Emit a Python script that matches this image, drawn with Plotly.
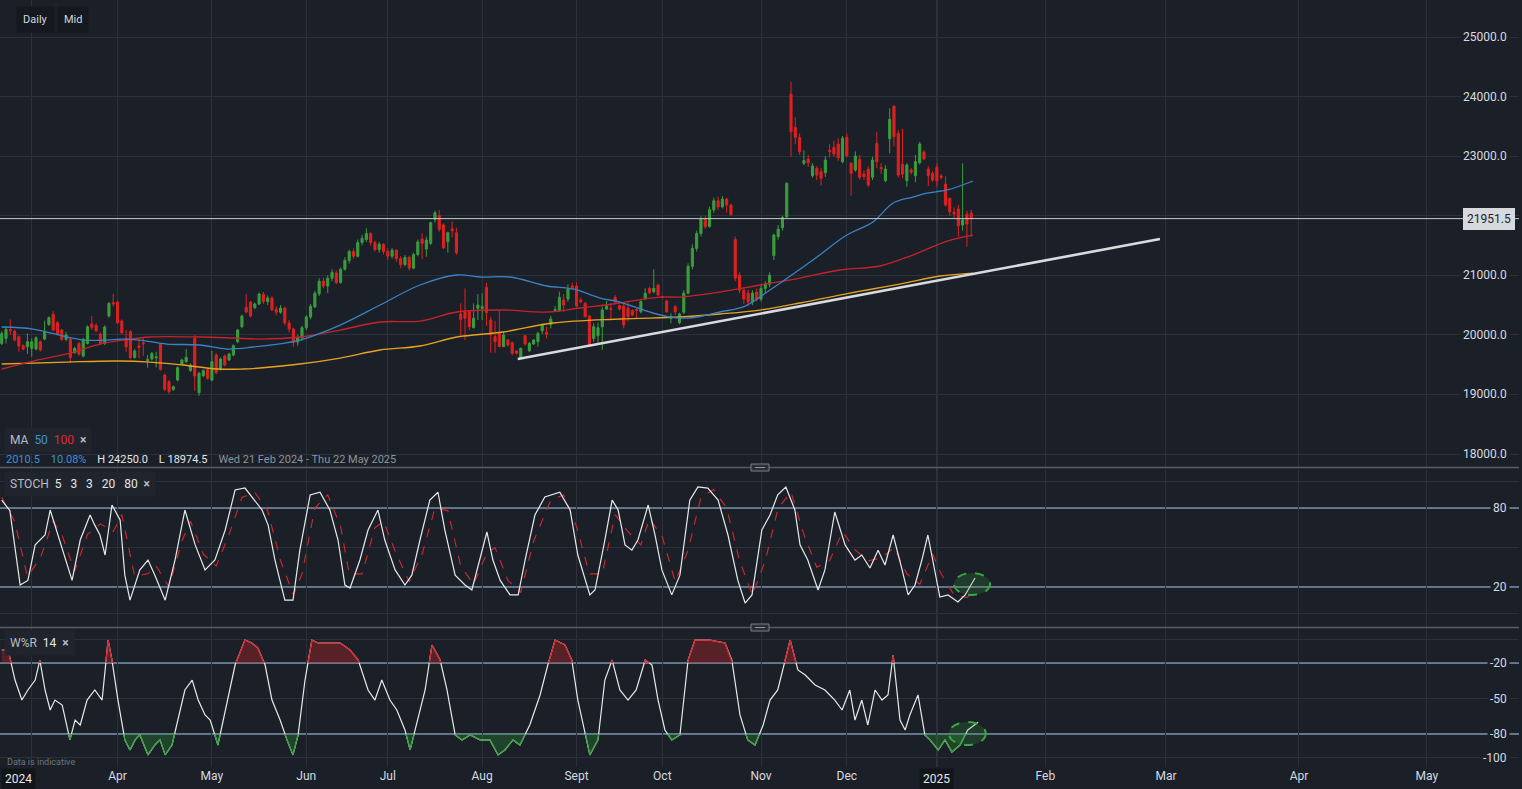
import plotly.graph_objects as go
from plotly.subplots import make_subplots

# ---------------- DATA ----------------
# bar slots: 0 = Wed 21 Feb 2024 (trading days), future slots in calendar days
month_slots = [7, 27, 49, 71, 90, 112, 134, 154, 177, 197, 218, 243.3, 271.4, 302.4, 332.2]
month_labels = ["", "Apr", "May", "Jun", "Jul", "Aug", "Sept", "Oct", "Nov", "Dec", "", "Feb", "Mar", "Apr", "May"]

open_ = [19857, 19941, 20090, 20064, 19969, 19818, 19801, 19773, 19762, 19885,
         19930, 20176, 20344, 20204, 20081, 19925, 19925, 19701, 19857, 19645,
         19857, 20182, 20160, 20014, 19857, 20316, 20540, 20551, 20232, 19941,
         20053, 19622, 19813, 19865, 19570, 19594, 19615, 19841, 19326, 19214,
         19085, 19242, 19505, 19550, 19398, 19941, 19029, 19315, 19421, 19242,
         19662, 19421, 19645, 19578, 19662, 19885, 20137, 20462, 20551, 20456,
         20518, 20680, 20560, 20620, 20430, 20380, 20450, 20200, 20100, 19880,
         19950, 20120, 20300, 20470, 20690, 20900, 20820, 20950, 21040, 20880,
         21100, 21250, 21400, 21320, 21550, 21600, 21700, 21550, 21430, 21520,
         21400, 21320, 21420, 21280, 21180, 21300, 21120, 21350, 21609, 21441,
         21536, 21939, 22001, 21844, 21564, 21777, 21715, 20350, 20389, 20389,
         20120, 20445, 20445, 20797, 20249, 19969, 20025, 19802, 19913, 19868,
         19729, 19617, 19986, 19734, 19846, 19885, 20070, 20042, 20176, 20410,
         20406, 20585, 20602, 20820, 20820, 20585, 20529, 20316, 19941, 19986,
         20137, 20434, 20440, 20630, 20490, 20484, 20445, 20406, 20425, 20389,
         20613, 20781, 20725, 20837, 20641, 20568, 20277, 20473, 20204, 20380,
         20700, 21150, 21450, 21700, 21950, 21820, 22100, 22250, 22150, 22280,
         22180, 21600, 21000, 20750, 20700, 20550, 20720, 20600, 20780, 20850,
         21330, 21650, 21800, 21980, 24043, 23484, 23316, 22880, 22952, 22672,
         22796, 22739, 22722, 23100, 23148, 23204, 22907, 23316, 22880, 22767,
         22947, 22700, 22779, 22645, 23215, 22810, 22588, 23293, 23842, 23383,
         22863, 22588, 22767, 22672, 22890, 23069, 22784, 22712, 22813, 22665,
         22532, 22293, 22060, 22113, 21844, 22024, 22045]
high = [20060, 20148, 20260, 20090, 19990, 19840, 20025, 19941, 19975, 19910,
        20238, 20310, 20400, 20230, 20100, 20050, 19950, 19800, 19880, 19950,
        20160, 20316, 20190, 20040, 20160, 20550, 20686, 20570, 20260, 20081,
        20080, 19760, 19941, 19958, 19662, 19710, 19717, 19860, 19350, 19240,
        19150, 19470, 19600, 19762, 19520, 19997, 19380, 19420, 19440, 19734,
        19690, 19620, 19670, 19700, 19840, 20100, 20340, 20686, 20570, 20540,
        20710, 20720, 20660, 20650, 20480, 20500, 20470, 20250, 20120, 20000,
        20150, 20330, 20520, 20740, 20950, 20960, 21000, 21100, 21080, 21130,
        21300, 21430, 21450, 21600, 21680, 21790, 21720, 21580, 21560, 21540,
        21450, 21460, 21440, 21320, 21340, 21330, 21380, 21600, 21704, 21648,
        21900, 22085, 22096, 21870, 21732, 21900, 21799, 20529, 20781, 20417,
        20529, 20686, 20697, 20876, 20305, 20232, 20406, 20053, 19930, 19885,
        19740, 19790, 19997, 19880, 19930, 20053, 20193, 20137, 20316, 20484,
        20725, 20686, 20848, 20876, 20876, 20630, 20551, 20333, 20193, 20204,
        20473, 20568, 20529, 20669, 20510, 20529, 20546, 20430, 20445, 20580,
        20781, 20809, 21100, 20860, 20660, 20590, 20360, 20501, 20370, 20750,
        21200, 21520, 21750, 21990, 22000, 22150, 22300, 22320, 22330, 22300,
        22200, 21650, 21050, 20800, 20760, 20750, 20780, 20850, 20900, 21050,
        21700, 21844, 22000, 22560, 24250, 23652, 23380, 23100, 23020, 22880,
        22830, 22800, 23000, 23200, 23260, 23300, 23338, 23380, 22900, 23080,
        23020, 22760, 22830, 22990, 23410, 22880, 22850, 23803, 23842, 23440,
        23460, 22880, 22800, 23020, 23240, 23100, 22830, 22750, 22880, 22700,
        22660, 22300, 22140, 22180, 22880, 22080, 22100]
low = [19830, 19857, 19997, 19890, 19717, 19740, 19678, 19634, 19740, 19720,
       19910, 20150, 20060, 19990, 19900, 19890, 19533, 19680, 19650, 19620,
       19840, 20081, 20040, 19830, 19830, 20290, 20473, 20180, 20010, 19717,
       19590, 19600, 19606, 19645, 19449, 19570, 19455, 19400, 19060, 19010,
       19060, 19220, 19490, 19530, 19380, 19063, 18975, 19290, 19250, 19220,
       19340, 19400, 19470, 19560, 19640, 19860, 20110, 20360, 20290, 20430,
       20500, 20520, 20500, 20400, 20330, 20350, 20160, 20040, 19800, 19820,
       19900, 20080, 20260, 20450, 20650, 20780, 20700, 20900, 20850, 20860,
       21080, 21200, 21280, 21300, 21500, 21560, 21500, 21400, 21380, 21350,
       21260, 21280, 21230, 21120, 21150, 21080, 21100, 21320, 21268, 21312,
       21510, 21883, 21732, 21440, 21379, 21637, 21340, 19997, 19913, 20081,
       20109, 20249, 20249, 20148, 19700, 19700, 19802, 19802, 19802, 19661,
       19670, 19600, 19818, 19710, 19830, 19802, 20014, 19941, 20109, 20389,
       20389, 20389, 20557, 20753, 20462, 20529, 20294, 19802, 19885, 19857,
       19745, 20417, 20260, 20529, 20410, 20109, 20221, 20310, 20277, 20360,
       20585, 20680, 20697, 20650, 20610, 20370, 20193, 20333, 20180, 20350,
       20680, 21100, 21400, 21650, 21780, 21800, 22050, 22100, 22120, 22050,
       21990, 20900, 20700, 20520, 20480, 20500, 20560, 20560, 20700, 20800,
       21256, 21600, 21750, 21960, 22991, 23200, 23020, 22850, 22820, 22640,
       22600, 22504, 22650, 22980, 22990, 22920, 22880, 22980, 22336, 22740,
       22600, 22600, 22480, 22600, 22800, 22700, 22560, 23048, 23160, 22640,
       22630, 22487, 22690, 22560, 22860, 22930, 22500, 22570, 22490, 22610,
       22150, 22000, 21960, 21648, 21749, 21480, 21648]
close = [20025, 20092, 20075, 19913, 19813, 19762, 19885, 19885, 19952, 19745,
         20053, 20288, 20081, 20014, 19925, 19997, 19622, 19773, 19678, 19925,
         20137, 20126, 20070, 19857, 20132, 20529, 20520, 20204, 20036, 19801,
         19617, 19729, 19790, 19850, 19585, 19690, 19630, 19421, 19085, 19046,
         19130, 19449, 19578, 19622, 19494, 19309, 19354, 19398, 19270, 19550,
         19365, 19594, 19494, 19678, 19818, 20081, 20316, 20383, 20316, 20518,
         20686, 20560, 20620, 20420, 20380, 20450, 20200, 20100, 19870, 19950,
         20120, 20300, 20480, 20700, 20900, 20820, 20950, 21050, 20880, 21100,
         21250, 21400, 21320, 21550, 21620, 21700, 21550, 21430, 21520, 21400,
         21320, 21420, 21280, 21180, 21300, 21120, 21350, 21560, 21536, 21592,
         21883, 22051, 21771, 21463, 21715, 21749, 21379, 20260, 20277, 20137,
         20277, 20501, 20473, 20372, 19997, 19885, 19802, 19997, 19829, 19690,
         19690, 19773, 19846, 19857, 19913, 20025, 20165, 20014, 20266, 20425,
         20630, 20501, 20769, 20797, 20484, 20557, 20305, 19818, 20137, 20120,
         20417, 20484, 20430, 20557, 20434, 20165, 20305, 20333, 20410, 20557,
         20697, 20708, 20781, 20669, 20630, 20389, 20305, 20389, 20350, 20700,
         21150, 21450, 21700, 21950, 21820, 22100, 22250, 22150, 22280, 22180,
         22020, 20950, 20750, 20600, 20550, 20700, 20600, 20780, 20850, 21000,
         21676, 21777, 21973, 22544, 23410, 23316, 23075, 22924, 22890, 22834,
         22683, 22628, 22935, 23080, 23036, 22974, 23299, 23008, 22712, 23002,
         22645, 22655, 22515, 22935, 22907, 22790, 22784, 23618, 23326, 22683,
         22700, 22851, 22729, 22907, 23204, 22952, 22672, 22600, 22588, 22645,
         22180, 22068, 22030, 21832, 21928, 21861, 21951.5]

ma50_slot = [0, 7.3, 15.2, 19, 24.5, 27.6, 32.2, 38.5, 46.2, 52.5, 58.6, 69.5, 78.9, 88.2, 97.5, 106.1, 111.5, 118.5, 127.1, 133.2, 139.5, 144.1, 151.8, 155.8, 160.4, 167.4, 173.3, 179.1, 189.1, 197, 203.1, 207.8, 212.4, 215.7, 220.4, 226.4]
ma50_val = [20132, 20098, 19964, 19913, 19913, 19930, 19913, 19846, 19830, 19762, 19796, 19913, 20165, 20501, 20837, 21005, 20971, 20971, 20820, 20770, 20618, 20551, 20367, 20300, 20283, 20384, 20484, 20753, 21256, 21676, 21894, 22213, 22314, 22381, 22432, 22583]
ma100_slot = [0, 7.3, 15.2, 22.9, 28.3, 34.6, 46.2, 53.9, 60.2, 69.5, 78.9, 88.2, 97.5, 106.1, 116.9, 127.1, 134.8, 144.1, 153.4, 158.1, 167.4, 176.8, 186.1, 195.4, 204.7, 212.4, 220.4, 226.4]
ma100_val = [19427, 19561, 19679, 19846, 19913, 19964, 19964, 19947, 19930, 19964, 20081, 20216, 20232, 20384, 20417, 20384, 20451, 20535, 20635, 20635, 20719, 20837, 20954, 21089, 21156, 21340, 21575, 21676]
ma200_slot = [0, 15.2, 26.9, 34.6, 42.3, 50.2, 56.2, 60.2, 69.5, 78.9, 88.2, 97.5, 106.1, 116.9, 128.5, 144.1, 158.1, 167.4, 176.8, 186.1, 197.7, 209.4, 218.7, 226.4]
ma200_val = [19511, 19544, 19561, 19544, 19494, 19427, 19427, 19444, 19511, 19611, 19746, 19813, 19964, 20048, 20199, 20266, 20300, 20350, 20417, 20535, 20702, 20853, 20988, 21038]

trend_slot = [120.3, 270]
trend_val = [19595, 21609]
last_price = 21951.5

stoch_k_slot = [0, 1.9, 4.3, 6.1, 7.8, 10.1, 11.3, 12.4, 14.8, 16.4, 18.3, 20.6, 21.7, 22.9, 24.1, 25.7, 27.6, 28.7, 29.9, 32.2, 34.1, 35.7, 38.1, 40.4, 42.7, 45.1, 47.4, 49.7, 52.1, 54.4, 56.7, 59.0, 60.7, 62.1, 63.7, 66.0, 67.9, 69.5, 71.9, 74.2, 76.5, 78.4, 80.0, 81.2, 83.5, 85.4, 87.7, 89.3, 91.7, 94.0, 95.6, 97.5, 99.8, 101.7, 103.3, 105.7, 108.0, 109.6, 111.5, 113.1, 114.5, 116.2, 118.5, 120.4, 122, 124.3, 126.6, 130.1, 132.5, 134.3, 137.1, 138.3, 140.6, 142.3, 143.7, 145.3, 146.9, 148.3, 150.7, 152.3, 153.9, 156.2, 158.1, 160.4, 162.3, 164.6, 167, 169.3, 171.6, 173.3, 174.9, 177.2, 179.1, 180.9, 182.8, 184.9, 186.1, 187.9, 190.3, 191.9, 194.2, 196.6, 198.9, 200.5, 202.4, 204.3, 205.9, 207.8, 209.9, 211.3, 212.9, 214.5, 215.9, 217.6, 218.7, 220.6, 222.9, 224.6, 226.9]
stoch_k_val = [86, 78, 21.5, 25, 52, 59.5, 78.5, 67, 40.5, 25, 55.7, 74.7, 67, 59.5, 44.3, 82.3, 71, 29, 10, 33, 40.5, 29, 10, 40.5, 78.5, 52, 33, 40.5, 63.3, 93.7, 95.2, 86, 78.5, 67, 40.5, 10, 10, 48, 90, 92, 78.5, 55.7, 21.5, 19.2, 40.5, 63.3, 78.5, 55.7, 33, 21.5, 29, 55.7, 86, 92, 63.3, 29, 21.5, 17.7, 40.5, 61.8, 40.5, 25, 14, 14, 40.5, 74.7, 88.4, 92, 78.5, 44.3, 14, 17.7, 55.7, 86, 78.5, 52, 48, 55.7, 82.3, 59.5, 33, 14, 29, 86, 96, 95.2, 86, 59.5, 25, 7.8, 14, 63.3, 74.7, 90, 96, 78.5, 52, 40.5, 17.7, 33, 77, 52, 40.5, 44.3, 34.4, 48, 36.7, 59.5, 33, 14, 21.5, 40.5, 59.5, 29, 12.4, 14, 8.6, 14, 26.8]
stoch_d_slot = [0, 3, 6, 9, 12, 14, 17, 20, 23, 26, 28, 31, 34, 36, 39, 42, 44, 47, 50, 53, 56, 59, 62, 65, 68, 70, 73, 76, 79, 81, 84, 87, 89, 92, 95, 98, 101, 104, 107, 110, 113, 115, 118, 121, 124, 128, 131, 134, 137, 140, 143, 146, 149, 151, 154, 157, 160, 163, 166, 169, 172, 175, 178, 181, 184, 187, 190, 193, 196, 199, 202, 205, 208, 211, 214, 217, 219, 222, 225, 227]
stoch_d_val = [88, 70, 28, 42, 70, 60, 32, 60, 68, 62, 75, 28, 30, 36, 20, 55, 70, 45, 36, 60, 88, 92, 78, 40, 14, 30, 80, 90, 66, 30, 30, 65, 70, 45, 24, 45, 80, 78, 36, 22, 45, 50, 25, 16, 55, 86, 90, 66, 30, 30, 75, 62, 52, 72, 58, 24, 48, 88, 94, 80, 40, 14, 40, 80, 92, 60, 35, 40, 62, 48, 40, 42, 50, 30, 22, 45, 30, 14, 12, 18]

wr_slot = [0, 1.5, 3.1, 4.7, 6.1, 7.8, 8.9, 10.1, 11.3, 12.4, 14.1, 15.9, 17.1, 18.3, 19.9, 21.7, 23.4, 24.8, 25.7, 27.1, 28.7, 29.9, 31.1, 32.2, 34.1, 35.7, 36.9, 38.1, 39.7, 41.1, 42.7, 44.4, 45.8, 47.4, 48.6, 50.4, 52.1, 54.4, 56.7, 58.3, 59.7, 61.4, 63, 64.9, 66.5, 67.9, 69.1, 70.7, 72.3, 73.7, 76.5, 78.9, 81.2, 83.1, 85.4, 87, 88.6, 90.5, 92.1, 94, 95.2, 97, 98.7, 100.3, 102.2, 103.8, 105.7, 107.3, 109.2, 111.5, 113.8, 115.7, 117.3, 119.2, 120.8, 123.1, 125.5, 127.3, 129, 131.3, 132.9, 134.3, 135.9, 137.1, 139, 140.6, 142.3, 144.1, 146, 147.9, 150, 151.6, 153, 154.6, 156.2, 158.1, 160, 161.6, 165.1, 168.6, 170.2, 172.1, 173.9, 175.6, 177.5, 179.1, 180.9, 182.6, 183.8, 185.6, 187.3, 189.6, 191.9, 194.2, 195.9, 197.7, 198.9, 200.5, 201.9, 203.6, 205.2, 206.6, 207.8, 209.4, 210.6, 211.7, 213.6, 215.2, 216.4, 218.3, 219.9, 221.5, 223.4, 225.2, 227.6]
wr_val = [-9, -9, -34.4, -51.3, -42.8, -34.4, -17.5, -42.8, -59.7, -51.3, -55.5, -85, -68.2, -72.4, -51.3, -42.8, -51.3, -0.6, -17.5, -51.3, -85, -93.5, -85, -80.8, -97.7, -89.3, -85, -97.7, -89.3, -68.2, -42.8, -34.4, -51.3, -63.9, -68.2, -89.3, -59.7, -21.7, -0.6, -3.1, -7.3, -21.7, -51.3, -68.2, -85, -97.7, -80.8, -34.4, -0.6, -3.1, -3.1, -3.1, -9, -17.5, -42.8, -51.3, -34.4, -51.3, -59.7, -76.6, -93.5, -68.2, -42.8, -4.8, -17.5, -42.8, -80.8, -85, -80.8, -85, -85, -97.7, -93.5, -85, -89.3, -72.4, -47, -21.7, -0.6, -4.8, -17.5, -51.3, -76.6, -97.7, -85, -34.4, -17.5, -42.8, -51.3, -42.8, -17.5, -21.7, -51.3, -76.6, -85, -80.8, -17.5, -0.6, -0.6, -3.1, -17.5, -63.9, -85, -89.3, -72.4, -51.3, -42.8, -17.5, -0.6, -25.9, -30.1, -38.6, -42.8, -51.3, -59.7, -42.8, -68.2, -51.3, -72.4, -42.8, -51.3, -47, -13.2, -68.2, -76.6, -63.9, -47, -80.8, -85, -93.5, -85, -95.2, -89.3, -76.6, -70]

# ---------------- STYLE ----------------
BG = "#1b2028"
GRID = "#2b3039"
TXT = "#d6dae0"
GREEN = "#3a9d3c"
RED = "#e0201f"
BLUE_MA = "#3a82c4"
RED_MA = "#c4232b"
ORANGE_MA = "#e6a11f"
LEVEL = "#a9cdef"
W, H = 1522, 789
ML, MR, MT, MB = 0, 3, 0, 22
PW, PH = W - ML - MR, H - MT - MB


def px(xp):
    return xp / PW


def py(yp):
    return 1 - yp / PH


X_RANGE = [-0.4, 353.7]

fig = make_subplots(rows=3, cols=1, shared_xaxes=True, vertical_spacing=0)

fig.add_trace(go.Candlestick(
    x=list(range(len(close))), open=open_, high=high, low=low, close=close,
    increasing=dict(line=dict(color=GREEN, width=1), fillcolor=GREEN),
    decreasing=dict(line=dict(color=RED, width=1), fillcolor=RED),
    whiskerwidth=0, showlegend=False, hoverinfo="skip"), row=1, col=1)

fig.add_trace(go.Scatter(x=ma200_slot, y=ma200_val, mode="lines", line=dict(color=ORANGE_MA, width=1.3, shape="spline"), hoverinfo="skip"), row=1, col=1)
fig.add_trace(go.Scatter(x=ma100_slot, y=ma100_val, mode="lines", line=dict(color=RED_MA, width=1.3, shape="spline"), hoverinfo="skip"), row=1, col=1)
fig.add_trace(go.Scatter(x=ma50_slot, y=ma50_val, mode="lines", line=dict(color=BLUE_MA, width=1.3, shape="spline"), hoverinfo="skip"), row=1, col=1)
fig.add_trace(go.Scatter(x=trend_slot, y=trend_val, mode="lines", line=dict(color="#d9dade", width=2.6), hoverinfo="skip"), row=1, col=1)

# Stochastic
fig.add_trace(go.Scatter(x=stoch_d_slot, y=stoch_d_val, mode="lines", line=dict(color="#d8262a", width=1.1, dash="dash"), hoverinfo="skip"), row=2, col=1)
fig.add_trace(go.Scatter(x=stoch_k_slot, y=stoch_k_val, mode="lines", line=dict(color="#e8e8ea", width=1.2), hoverinfo="skip"), row=2, col=1)


# Williams %R with zone fills
def zone(xs, ys, level, above):
    """Split the polyline at the level; return clipped fill path and the in-zone line (None elsewhere)."""
    fx, fy, lx, ly = [], [], [], []
    inside = (lambda v: v > level) if above else (lambda v: v < level)
    for i in range(len(xs)):
        if i > 0:
            y0, y1 = ys[i - 1], ys[i]
            if (y0 - level) * (y1 - level) < 0:
                t = (level - y0) / (y1 - y0)
                xc = xs[i - 1] + t * (xs[i] - xs[i - 1])
                fx.append(xc)
                fy.append(level)
                lx.append(xc)
                ly.append(level)
                if not inside(y1):
                    lx.append(None)
                    ly.append(None)
        fx.append(xs[i])
        fy.append(max(ys[i], level) if above else min(ys[i], level))
        if inside(ys[i]):
            lx.append(xs[i])
            ly.append(ys[i])
    return fx, fy, lx, ly


fig.add_trace(go.Scatter(x=wr_slot, y=wr_val, mode="lines", line=dict(color="#e8e8ea", width=1.2), hoverinfo="skip"), row=3, col=1)
for level, above, col, fcol in [(-20, True, "#d42428", "rgba(190,35,40,0.38)"), (-80, False, "#36a03a", "rgba(45,150,55,0.30)")]:
    fx, fy, lx, ly = zone(wr_slot, wr_val, level, above)
    fig.add_trace(go.Scatter(x=[fx[0], fx[-1]], y=[level, level], mode="lines", line=dict(width=0), hoverinfo="skip"), row=3, col=1)
    fig.add_trace(go.Scatter(x=fx, y=fy, mode="lines", line=dict(width=0), fill="tonexty", fillcolor=fcol, hoverinfo="skip"), row=3, col=1)
    fig.add_trace(go.Scatter(x=lx, y=ly, mode="lines", line=dict(color=col, width=1.2), connectgaps=False, hoverinfo="skip"), row=3, col=1)

main_dom = [py(467), 1]
st_dom = [py(627), py(470)]
wr_dom = [0, py(628)]

fig.update_layout(
    width=W, height=H, margin=dict(l=ML, r=MR, t=MT, b=MB),
    paper_bgcolor=BG, plot_bgcolor=BG, showlegend=False,
    font=dict(family="Roboto, Arial", color=TXT, size=12),
)
for ax in ["xaxis", "xaxis2", "xaxis3"]:
    fig.layout[ax].update(range=X_RANGE, tickvals=month_slots, ticktext=month_labels, showgrid=True,
                          gridcolor=GRID, gridwidth=1, zeroline=False, showline=False, ticks="",
                          showticklabels=(ax == "xaxis3"), tickfont=dict(size=12, color=TXT),
                          rangeslider=dict(visible=False), fixedrange=True)
fig.layout.yaxis.update(domain=main_dom, range=[17782, 25621], tickvals=list(range(18000, 25001, 1000)),
                        showticklabels=False, gridcolor=GRID, zeroline=False, fixedrange=True)
fig.layout.yaxis2.update(domain=st_dom, range=[-10.4, 108.9], tickvals=[0, 50, 100],
                         showticklabels=False, gridcolor=GRID, zeroline=False, fixedrange=True)
fig.layout.yaxis3.update(domain=wr_dom, range=[-107.9, 9.6], tickvals=[0, -50, -100],
                         showticklabels=False, gridcolor=GRID, zeroline=False, fixedrange=True)

shapes = []
for yref, v in [("y2", 80), ("y2", 20), ("y3", -20), ("y3", -80)]:
    shapes.append(dict(type="line", xref="paper", yref=yref, x0=0, x1=1, y0=v, y1=v, line=dict(color=LEVEL, width=1), layer="below"))
shapes.append(dict(type="line", xref="paper", yref="y", x0=0, x1=1, y0=last_price, y1=last_price, line=dict(color="#c6c9ce", width=1)))
shapes.append(dict(type="line", xref="x", yref="paper", x0=218, x1=218, y0=0, y1=1, line=dict(color="#454b55", width=1), layer="below"))
for yp in [467.5, 627.5]:
    shapes.append(dict(type="line", xref="paper", yref="paper", x0=0, x1=1, y0=py(yp), y1=py(yp), line=dict(color="#575c65", width=1.5)))
    shapes.append(dict(type="rect", xref="paper", yref="paper", x0=px(751), x1=px(769), y0=py(yp + 3.5), y1=py(yp - 3.5),
                       fillcolor="#2b3038", line=dict(color="#7a7f88", width=1)))
    shapes.append(dict(type="line", xref="paper", yref="paper", x0=px(755), x1=px(765), y0=py(yp), y1=py(yp), line=dict(color="#8a8f98", width=1)))
shapes.append(dict(type="circle", xref="x2", yref="y2", x0=222, x1=230.4, y0=13.9, y1=30.6,
                   line=dict(color="#3aa640", width=2, dash="dash"), fillcolor="rgba(50,150,60,0.22)"))
shapes.append(dict(type="circle", xref="x3", yref="y3", x0=220.8, x1=229.4, y0=-89.3, y1=-69.9,
                   line=dict(color="#3aa640", width=2, dash="dash"), fillcolor="rgba(50,150,60,0.22)"))
fig.update_layout(shapes=shapes)

ann = []
lab_x = px(1510)
for v in range(18000, 25001, 1000):
    if v == 22000:
        continue
    ann.append(dict(xref="paper", yref="y", x=lab_x, y=v, text=f"{v}.0", xanchor="right", yanchor="middle",
                    showarrow=False, bgcolor=BG, font=dict(size=12, color=TXT), borderpad=2))
for v in [80, 20]:
    ann.append(dict(xref="paper", yref="y2", x=lab_x, y=v, text=str(v), xanchor="right", yanchor="middle",
                    showarrow=False, bgcolor=BG, font=dict(size=12, color=TXT), borderpad=2))
for v in [-20, -50, -80, -100]:
    ann.append(dict(xref="paper", yref="y3", x=lab_x, y=v, text=str(v), xanchor="right", yanchor="middle",
                    showarrow=False, bgcolor=BG, font=dict(size=12, color=TXT), borderpad=2))
ann.append(dict(xref="paper", yref="y", x=px(1515), y=last_price, text="21951.5", xanchor="right", yanchor="middle",
                showarrow=False, bgcolor="#d6d9de", bordercolor="#d6d9de", borderpad=3, font=dict(size=12, color="#1b1f26")))
for t, cx in [("Daily", 35), ("Mid", 73)]:
    ann.append(dict(xref="paper", yref="paper", x=px(cx), y=py(19), text=t, showarrow=False, bgcolor="#15191f",
                    xanchor="center", yanchor="middle", borderpad=6, font=dict(size=11, color="#d2d6dc")))
ann.append(dict(xref="paper", yref="paper", x=px(4), y=py(440), xanchor="left", yanchor="middle", showarrow=False, bgcolor="#20252d", borderpad=5,
                text="MA  <span style='color:#3d8fd6'>50</span>  <span style='color:#e0262b'>100</span>  <b>×</b>",
                font=dict(size=12, color="#b8bcc3")))
ann.append(dict(xref="paper", yref="paper", x=px(4), y=py(459), xanchor="left", yanchor="middle", showarrow=False,
                text="<span style='color:#3d8fd6'>2010.5</span>    <span style='color:#3d8fd6'>10.08%</span>    H 24250.0    L 18974.5    <span style='color:#8d939c'>Wed 21 Feb 2024 - Thu 22 May 2025</span>",
                font=dict(size=11, color="#e4e6ea")))
ann.append(dict(xref="paper", yref="paper", x=px(4), y=py(484), xanchor="left", yanchor="middle", showarrow=False, bgcolor="#20252d", borderpad=5,
                text="STOCH  <span style='color:#e4e6ea'>5   3   3   20   80</span>  <b>×</b>", font=dict(size=12, color="#b8bcc3")))
ann.append(dict(xref="paper", yref="paper", x=px(4), y=py(643), xanchor="left", yanchor="middle", showarrow=False, bgcolor="#20252d", borderpad=5,
                text="W%R  <span style='color:#e4e6ea'>14</span>  <b>×</b>", font=dict(size=12, color="#b8bcc3")))
ann.append(dict(xref="paper", yref="paper", x=px(5), y=py(762), xanchor="left", yanchor="middle", showarrow=False,
                text="Data is indicative", font=dict(size=9, color="#6e747d")))
ann.append(dict(xref="paper", yref="paper", x=px(1), y=py(779), xanchor="left", yanchor="middle", showarrow=False, bgcolor="#12151a", borderpad=3,
                text="2024", font=dict(size=12, color="#e6e8eb")))
ann.append(dict(xref="x3", yref="paper", x=218, y=py(779), xanchor="center", yanchor="middle", showarrow=False, bgcolor="#12151a", borderpad=3,
                text="2025", font=dict(size=12, color="#e6e8eb")))
fig.update_layout(annotations=ann)

fig.write_html("out.html", config={"displayModeBar": False},
               post_script="document.body.style.margin='0';document.body.style.background='%s';" % BG)
